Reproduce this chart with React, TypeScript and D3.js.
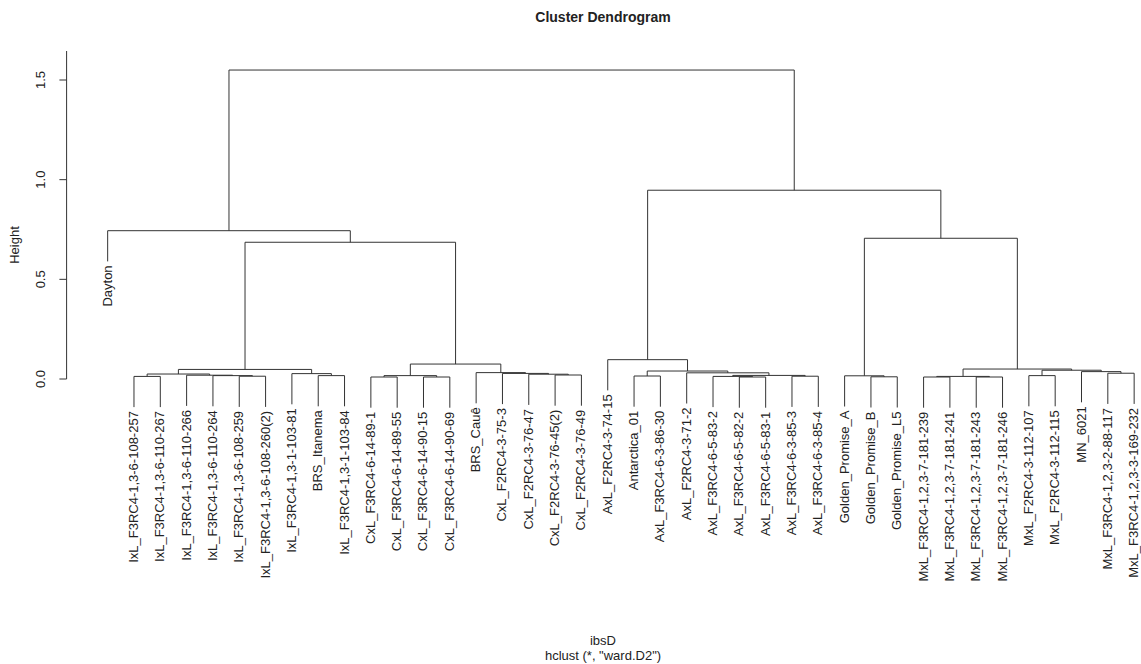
import React from 'react';
import { scaleLinear, max, min } from 'd3';

// leaves in plotting order
const labels = [
  'Dayton',
  'IxL_F3RC4-1,3-6-108-257',
  'IxL_F3RC4-1,3-6-110-267',
  'IxL_F3RC4-1,3-6-110-266',
  'IxL_F3RC4-1,3-6-110-264',
  'IxL_F3RC4-1,3-6-108-259',
  'IxL_F3RC4-1,3-6-108-260(2)',
  'IxL_F3RC4-1,3-1-103-81',
  'BRS_Itanema',
  'IxL_F3RC4-1,3-1-103-84',
  'CxL_F3RC4-6-14-89-1',
  'CxL_F3RC4-6-14-89-55',
  'CxL_F3RC4-6-14-90-15',
  'CxL_F3RC4-6-14-90-69',
  'BRS_Cauê',
  'CxL_F2RC4-3-75-3',
  'CxL_F2RC4-3-76-47',
  'CxL_F2RC4-3-76-45(2)',
  'CxL_F2RC4-3-76-49',
  'AxL_F2RC4-3-74-15',
  'Antarctica_01',
  'AxL_F3RC4-6-3-86-30',
  'AxL_F2RC4-3-71-2',
  'AxL_F3RC4-6-5-83-2',
  'AxL_F3RC4-6-5-82-2',
  'AxL_F3RC4-6-5-83-1',
  'AxL_F3RC4-6-3-85-3',
  'AxL_F3RC4-6-3-85-4',
  'Golden_Promise_A',
  'Golden_Promise_B',
  'Golden_Promise_L5',
  'MxL_F3RC4-1,2,3-7-181-239',
  'MxL_F3RC4-1,2,3-7-181-241',
  'MxL_F3RC4-1,2,3-7-181-243',
  'MxL_F3RC4-1,2,3-7-181-246',
  'MxL_F2RC4-3-112-107',
  'MxL_F2RC4-3-112-115',
  'MN_6021',
  'MxL_F3RC4-1,2,3-2-88-117',
  'MxL_F3RC4-1,2,3-3-169-232',
];

// hclust style merge table: negative = leaf (1-based), positive = earlier merge row
const merges: [number, number][] = [
  [-2, -3], [-6, -7], [-5, 2], [-4, 3], [1, 4],
  [-9, -10], [-8, 6], [5, 7],
  [-11, -12], [-13, -14], [9, 10],
  [-18, -19], [-17, 12], [-16, 13], [-15, 14], [11, 15],
  [8, 16], [-1, 17],
  [-21, -22], [-25, -26], [-24, 20], [-27, -28], [21, 22], [-23, 23], [19, 24], [-20, 25],
  [-30, -31], [-29, 27],
  [-32, -33], [-34, -35], [29, 30],
  [-36, -37], [-39, -40], [-38, 33], [32, 34], [31, 35],
  [28, 36], [26, 37], [18, 38],
];

const heights = [
  0.013, 0.014, 0.017, 0.019, 0.025,
  0.017, 0.027, 0.048,
  0.01, 0.01, 0.017,
  0.02, 0.024, 0.028, 0.032, 0.075,
  0.686, 0.744,
  0.015, 0.01, 0.013, 0.014, 0.018, 0.031, 0.04, 0.097,
  0.011, 0.016,
  0.01, 0.01, 0.013,
  0.017, 0.029, 0.037, 0.044, 0.05,
  0.706, 0.947, 1.55,
];

const yTicks = [0, 0.5, 1.0, 1.5];
const hang = 0.1;

const font = "'Liberation Sans', Arial, Helvetica, sans-serif";
const ink = '#222';

const App = () => {
  const n = labels.length;
  const x = scaleLinear()
    .domain([1 - 0.04 * (n - 1), n + 0.04 * (n - 1)])
    .range([66.6, 1175.2]);
  const y = scaleLinear().domain([0, 1.5]).range([379, 80]);
  const hangH = hang * ((max(heights) as number) - (min(heights) as number));

  const nodeX: number[] = [];
  const leafH: number[] = new Array(n).fill(0);
  const paths: string[] = [];

  merges.forEach(([a, b], i) => {
    const h = heights[i];
    const hy = y(h);
    const ends = [a, b].map((c) => {
      if (c < 0) {
        leafH[-c - 1] = h;
        return { cx: x(-c), top: y(h - hangH) };
      }
      return { cx: nodeX[c - 1], top: y(heights[c - 1]) };
    });
    nodeX.push((ends[0].cx + ends[1].cx) / 2);
    paths.push(
      `M${ends[0].cx},${ends[0].top}V${hy}H${ends[1].cx}V${ends[1].top}`
    );
  });

  const axisTop = y.invert(51);

  return (
    <svg
      width={1141}
      height={664}
      style={{ position: 'absolute', left: 0, top: 0, background: '#fff' }}
      fontFamily={font}
    >
      <text
        x={603}
        y={22}
        textAnchor='middle'
        fontWeight='bold'
        fontSize={14}
        fill={ink}
      >
        Cluster Dendrogram
      </text>

      {paths.map((d, i) => (
        <path key={i} d={d} fill='none' stroke='#333' strokeWidth={1} />
      ))}

      {labels.map((lab, i) => {
        const lx = x(i + 1) - 0.5;
        const ly = y(leafH[i] - hangH) + 4;
        return (
          <text
            key={lab}
            transform={`translate(${lx},${ly}) rotate(-90)`}
            textAnchor='end'
            dominantBaseline='central'
            fontSize={13}
            fill={ink}
          >
            {lab}
          </text>
        );
      })}

      <line
        x1={66.6}
        x2={66.6}
        y1={y(0)}
        y2={y(axisTop)}
        stroke='#333'
        strokeWidth={1}
      />
      {yTicks.map((t) => (
        <g key={t}>
          <line
            x1={59.4}
            x2={66.6}
            y1={y(t)}
            y2={y(t)}
            stroke='#333'
            strokeWidth={1}
          />
          <text
            transform={`translate(40,${y(t)}) rotate(-90)`}
            textAnchor='middle'
            dominantBaseline='central'
            fontSize={13}
            fill={ink}
          >
            {t.toFixed(1)}
          </text>
        </g>
      ))}
      <text
        transform='translate(14,245) rotate(-90)'
        textAnchor='middle'
        dominantBaseline='central'
        fontSize={13}
        fill={ink}
      >
        Height
      </text>

      <text x={603} y={645} textAnchor='middle' fontSize={13} fill={ink}>
        ibsD
      </text>
      <text x={603} y={660} textAnchor='middle' fontSize={13} fill={ink}>
        hclust (*, "ward.D2")
      </text>
    </svg>
  );
};

export default App;
